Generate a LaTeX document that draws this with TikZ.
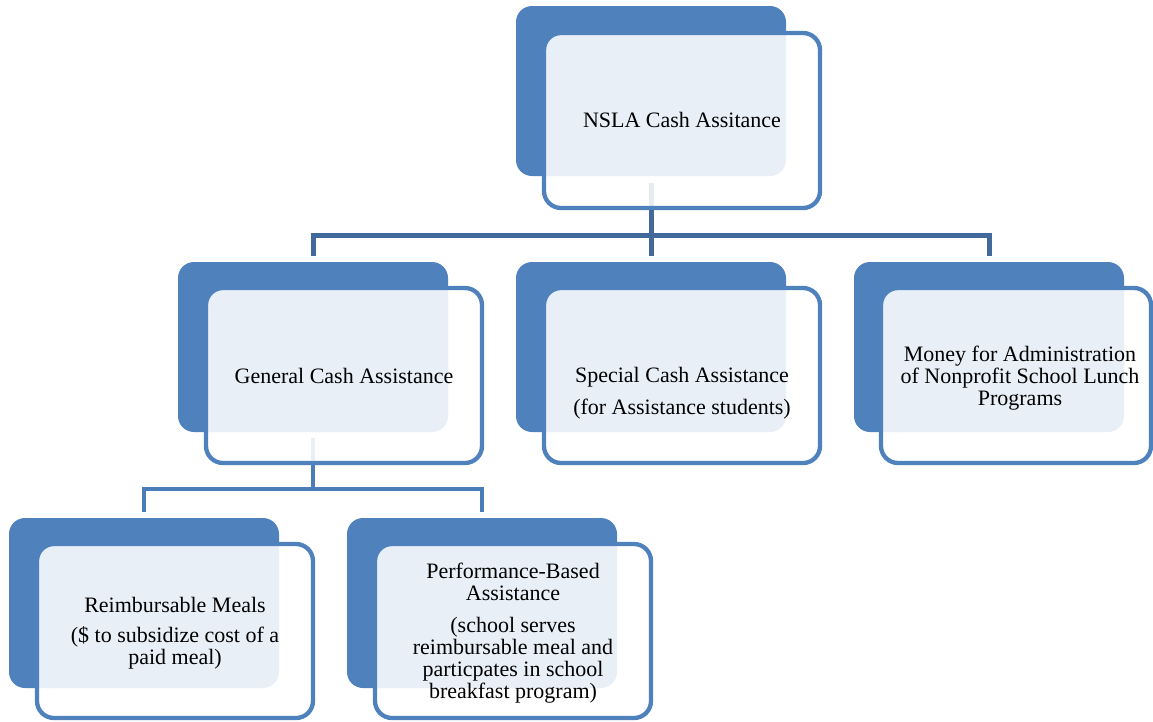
\documentclass[tikz,border=0pt]{standalone}
\usepackage{fontspec}
\setmainfont{Liberation Serif}
\usetikzlibrary{backgrounds}
\definecolor{boxblue}{HTML}{4F81BD}
\definecolor{linkA}{HTML}{41699C}
\definecolor{linkB}{HTML}{4A7CB8}
\begin{document}
\begin{tikzpicture}[x=1pt,y=-1pt,
  backbox/.style={fill=boxblue, draw=none, rounded corners=16pt, minimum width=270pt, minimum height=170pt, inner sep=0pt},
  frontbox/.style={draw=boxblue, line width=4.3pt, fill=white, fill opacity=0.88, draw opacity=1, rounded corners=17pt, minimum width=276pt, minimum height=175pt, inner sep=0pt},
  boxtext/.style={align=center, font=\fontsize{22}{22}\selectfont, text=black, inner sep=0pt},
  linkone/.style={draw=linkA, line width=5pt},
  linktwo/.style={draw=linkB, line width=4.5pt}]
\useasboundingbox (0,0) rectangle (1153,721);

% back boxes
\node[backbox] (topB) at (651,91) {};
\node[backbox] (genB) at (313,347) {};
\node[backbox] (spcB) at (651,347) {};
\node[backbox] (monB) at (989,347) {};
\node[backbox] (reiB) at (144,603) {};
\node[backbox] (perB) at (482,603) {};

% front boxes
\node[frontbox] (top) at (682,120.5) {};
\node[frontbox] (gen) at (344,375.5) {};
\node[frontbox] (spc) at (682,375.5) {};
\node[frontbox, minimum width=270pt] (mon) at (1016,375.5) {};
\node[frontbox, minimum height=174pt] (rei) at (175,631) {};
\node[frontbox, minimum height=174pt] (per) at (513,631) {};

% texts
\node[boxtext] (topT) at (682,120) {NSLA Cash Assitance};
\node[boxtext] (genT) at (344,376) {General Cash Assistance};
\node[boxtext] (spcT) at (682,393) {Special Cash Assistance\\[10pt](for Assistance students)};
\node[boxtext] (monT) at (1020,378) {Money for Administration\\of Nonprofit School Lunch\\Programs};
\node[boxtext] (reiT) at (175,633) {Reimbursable Meals\\[8pt](\$ to subsidize cost of a\\paid meal)};
\node[boxtext] (perT) at (513,633) {Performance-Based\\Assistance\\[10pt](school serves\\reimbursable meal and\\particpates in school\\breakfast program)};

% connectors
\coordinate (busone) at (651,235);
\coordinate (bustwo) at (313,489);
\begin{scope}[on background layer]
\draw[linkone] ([yshift=6pt]genB.north) |- (busone) -| ([yshift=6pt]monB.north);
\draw[linkone] ([yshift=-7pt]topB.south) -- ([yshift=6pt]spcB.north);
\draw[linktwo] ([yshift=6pt]reiB.north) |- (bustwo) -| ([yshift=6pt]perB.north);
\draw[linktwo] ([yshift=-6pt]genB.south) -- ([yshift=-2pt]bustwo);
\end{scope}
\end{tikzpicture}
\end{document}
